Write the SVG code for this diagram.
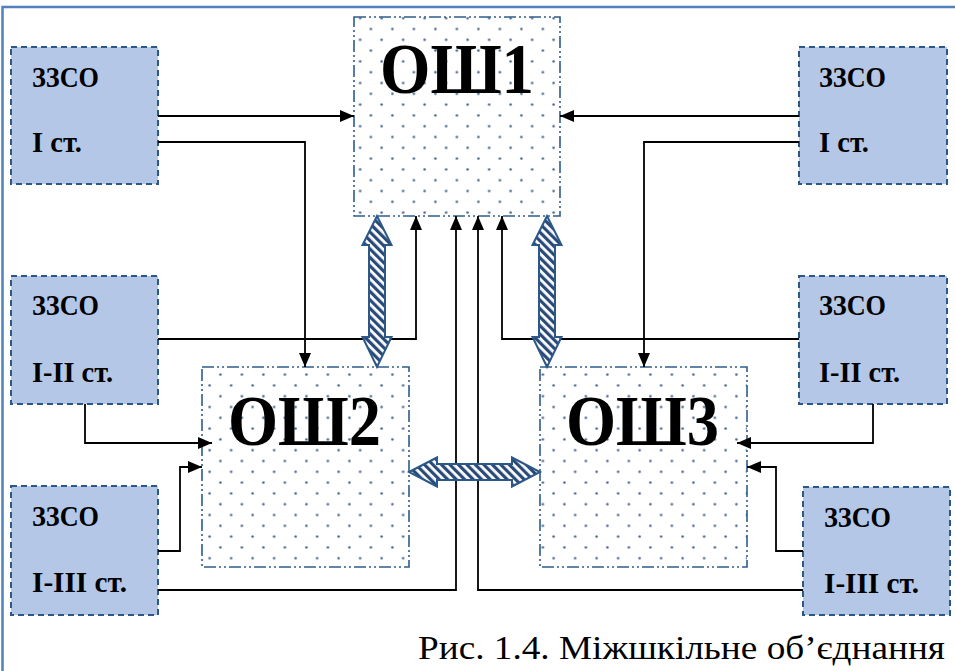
<svg xmlns="http://www.w3.org/2000/svg" width="955" height="671" viewBox="0 0 955 671">
  <style>
    .zz rect { fill: #b4c7e7; stroke: #2b5888; stroke-width: 2; stroke-dasharray: 6 4; }
    .zz text { font-family: "Liberation Serif", "DejaVu Serif", serif; font-weight: bold; font-size: 29px; fill: #000; }
    .osh rect.bg { fill: #ffffff; }
    .osh rect.fr { fill: url(#dots); stroke: #2e5c8a; stroke-width: 1.6; stroke-dasharray: 12 3 2 3 2 3; }
    .osh text { font-family: "Liberation Serif", "DejaVu Serif", serif; font-weight: bold; font-size: 72px; fill: #000; }
    .conn path { fill: none; stroke: #000; stroke-width: 1.8; }
    .dbl { fill: url(#hatch); stroke: #2b5888; stroke-width: 2; stroke-linejoin: miter; }
    .caption { font-family: "Liberation Serif", "Times New Roman", serif; font-size: 34px; fill: #000; }
  </style>
  <defs>
    <pattern id="dots" patternUnits="userSpaceOnUse" x="0" y="2" width="21.5" height="21.6">
      <circle cx="5.4" cy="5.4" r="1.25" fill="#45638c"/>
      <circle cx="16.15" cy="16.2" r="1.25" fill="#45638c"/>
    </pattern>
    <pattern id="hatch" patternUnits="userSpaceOnUse" width="6" height="6" patternTransform="rotate(-45)">
      <rect width="6" height="6" fill="#ffffff"/>
      <rect width="3.2" height="6" fill="#2a4a78"/>
    </pattern>
    <marker id="ah" viewBox="0 0 14 12" refX="14" refY="6" markerWidth="14" markerHeight="12" orient="auto" markerUnits="userSpaceOnUse">
      <path d="M0,0 L14,6 L0,12 z" fill="#000"/>
    </marker>
  </defs>

  <rect width="955" height="671" fill="#ffffff"/>
  <path d="M2.5,671 V7 H955" fill="none" stroke="#4f81bd" stroke-width="2.5"/>

  <!-- OSH nodes -->
  <g id="osh1" class="osh">
    <rect class="bg" x="354" y="17" width="206" height="199"/>
    <rect class="fr" x="354" y="17" width="206" height="199"/>
    <text x="380" y="93" textLength="154" lengthAdjust="spacingAndGlyphs">ОШ1</text>
  </g>
  <g id="osh2" class="osh">
    <rect class="bg" x="202" y="367" width="207" height="200"/>
    <rect class="fr" x="202" y="367" width="207" height="200"/>
    <text x="228" y="445" textLength="153" lengthAdjust="spacingAndGlyphs">ОШ2</text>
  </g>
  <g id="osh3" class="osh">
    <rect class="bg" x="540" y="367" width="207" height="200"/>
    <rect class="fr" x="540" y="367" width="207" height="200"/>
    <text x="566" y="445" textLength="153" lengthAdjust="spacingAndGlyphs">ОШ3</text>
  </g>

  <!-- ZZSO nodes -->
  <g id="zz-l1" class="zz">
    <rect x="11" y="47" width="147" height="137"/>
    <text x="32" y="87" textLength="67" lengthAdjust="spacingAndGlyphs">ЗЗСО</text>
    <text x="32" y="152" textLength="50" lengthAdjust="spacingAndGlyphs">І ст.</text>
  </g>
  <g id="zz-l2" class="zz">
    <rect x="11" y="276" width="147" height="128"/>
    <text x="32" y="315" textLength="67" lengthAdjust="spacingAndGlyphs">ЗЗСО</text>
    <text x="32" y="382" textLength="81" lengthAdjust="spacingAndGlyphs">І-ІІ ст.</text>
  </g>
  <g id="zz-l3" class="zz">
    <rect x="11" y="486" width="147" height="129"/>
    <text x="32" y="526" textLength="67" lengthAdjust="spacingAndGlyphs">ЗЗСО</text>
    <text x="32" y="592" textLength="95" lengthAdjust="spacingAndGlyphs">І-ІІІ ст.</text>
  </g>
  <g id="zz-r1" class="zz">
    <rect x="799" y="47" width="148" height="137"/>
    <text x="819" y="87" textLength="67" lengthAdjust="spacingAndGlyphs">ЗЗСО</text>
    <text x="819" y="152" textLength="50" lengthAdjust="spacingAndGlyphs">І ст.</text>
  </g>
  <g id="zz-r2" class="zz">
    <rect x="799" y="276" width="148" height="128"/>
    <text x="819" y="315" textLength="67" lengthAdjust="spacingAndGlyphs">ЗЗСО</text>
    <text x="819" y="382" textLength="81" lengthAdjust="spacingAndGlyphs">І-ІІ ст.</text>
  </g>
  <g id="zz-r3" class="zz">
    <rect x="803" y="487" width="147" height="128"/>
    <text x="824" y="527" textLength="67" lengthAdjust="spacingAndGlyphs">ЗЗСО</text>
    <text x="824" y="593" textLength="95" lengthAdjust="spacingAndGlyphs">І-ІІІ ст.</text>
  </g>

  <!-- connectors -->
  <g id="connectors" class="conn">
    <path d="M158,116 H354" marker-end="url(#ah)"/>
    <path d="M158,142 H305 V367" marker-end="url(#ah)"/>
    <path d="M158,339 H416 V216" marker-end="url(#ah)"/>
    <path d="M85,404 V443 H212" marker-end="url(#ah)"/>
    <path d="M158,551 H180 V467 H202" marker-end="url(#ah)"/>
    <path d="M158,590 H456 V216" marker-end="url(#ah)"/>
    <path d="M803,590 H478 V216" marker-end="url(#ah)"/>
    <path d="M799,339 H502 V216" marker-end="url(#ah)"/>
    <path d="M799,116 H560" marker-end="url(#ah)"/>
    <path d="M799,142 H644 V367" marker-end="url(#ah)"/>
    <path d="M873,404 V443 H737" marker-end="url(#ah)"/>
    <path d="M803,551 H776 V467 H747" marker-end="url(#ah)"/>
    <!-- double (hatched) arrows -->
    <polygon class="dbl" points="377,216 391.5,245 385,245 385,337 391.5,337 377,367 362.5,337 369,337 369,245 362.5,245"/>
    <polygon class="dbl" points="547,216 561.5,245 555,245 555,337 561.5,337 547,367 532.5,337 539,337 539,245 532.5,245"/>
    <polygon class="dbl" points="409,472 437,457.5 437,464 512,464 512,457.5 540,472 512,486.5 512,480 437,480 437,486.5"/>
  </g>

  <text class="caption" x="418" y="659" textLength="527" lengthAdjust="spacingAndGlyphs">Рис. 1.4. Міжшкільне об’єднання</text>
</svg>
